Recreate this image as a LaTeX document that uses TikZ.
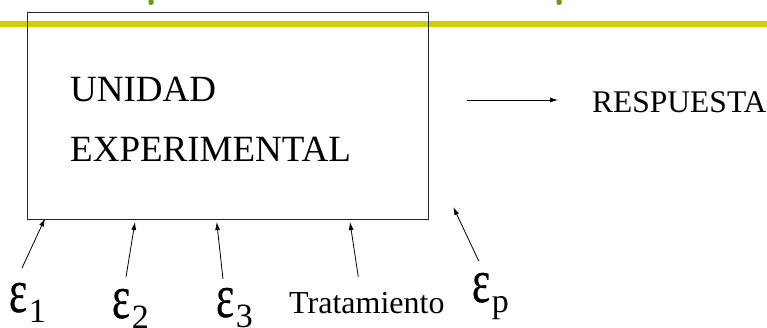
\documentclass[tikz,border=0pt]{standalone}
\usepackage{fontspec}
\usepackage{graphicx}
\setmainfont{Liberation Serif}
\newfontfamily\grkfont{Liberation Serif}
\usetikzlibrary{arrows.meta}
\definecolor{bandyellow}{HTML}{D2CF00}
\definecolor{dotgreen}{HTML}{6A9A1C}
\newcommand\EpsGlyph{{\grkfont\fontsize{62}{62}\selectfont\scalebox{0.7}[1]{\rlap{ε}\kern0.8pt ε}}}
\newcommand\EpsLab[1]{\EpsGlyph\kern1pt\raisebox{-10pt}{\grkfont\fontsize{34}{40}\selectfont #1}}
\begin{document}
\begin{tikzpicture}[x=1pt,y=-1pt,
  conn/.style={-{Latex[length=8pt,width=5pt]}, line width=0.8pt},
  big/.style={font=\fontsize{37}{40}\selectfont, inner sep=0, anchor=base west},
  mid/.style={font=\fontsize{32}{34}\selectfont, inner sep=0, anchor=base west},
  epsnode/.style={inner sep=0, anchor=base west}]
\useasboundingbox (0,0) rectangle (767,328);
% top decoration
\fill[bandyellow] (0,21.3) rectangle (767,26.7);
\fill[dotgreen, rounded corners=1.5pt] (148.5,-3) rectangle (153.5,5);
\fill[dotgreen, rounded corners=1.5pt] (556.5,-3) rectangle (561.5,5);
% experimental unit
\node[draw=black!85, line width=0.9pt, minimum width=400.4pt, minimum height=207.3pt,
      inner sep=0, anchor=north west] (box) at (27.3,12) {};
\node[big] (unidad) at (70,102) {UNIDAD};
\node[big] (exper) at (70,162) {EXPERIMENTAL};
% response
\coordinate (ra) at (467,100);
\coordinate (rb) at (558,100);
\node[mid, font=\fontsize{31.5}{34}\selectfont] (resp) at (592,113) {RESPUESTA};
\draw[conn] (ra) -- (rb);
% inputs
\node[epsnode] (e1) at (9,312) {\EpsLab{1}};
\node[epsnode] (e2) at (112,318) {\EpsLab{2}};
\node[epsnode] (e3) at (216,317) {\EpsLab{3}};
\node[mid] (trat) at (289,313) {Tratamiento};
\node[epsnode] (ep) at (472,302) {\EpsLab{p}};
\coordinate (t1) at (22,268);   \coordinate (h1) at (45,218.5);
\coordinate (t2) at (126,277);  \coordinate (h2) at (135,222);
\coordinate (t3) at (223,279);  \coordinate (h3) at (216.7,222);
\coordinate (tt) at (358.3,277);\coordinate (ht) at (350,222);
\coordinate (tp) at (478.7,261);\coordinate (hp) at (453.3,207);
\draw[conn] (t1) -- (h1);
\draw[conn] (t2) -- (h2);
\draw[conn] (t3) -- (h3);
\draw[conn] (tt) -- (ht);
\draw[conn] (tp) -- (hp);
\end{tikzpicture}
\end{document}
